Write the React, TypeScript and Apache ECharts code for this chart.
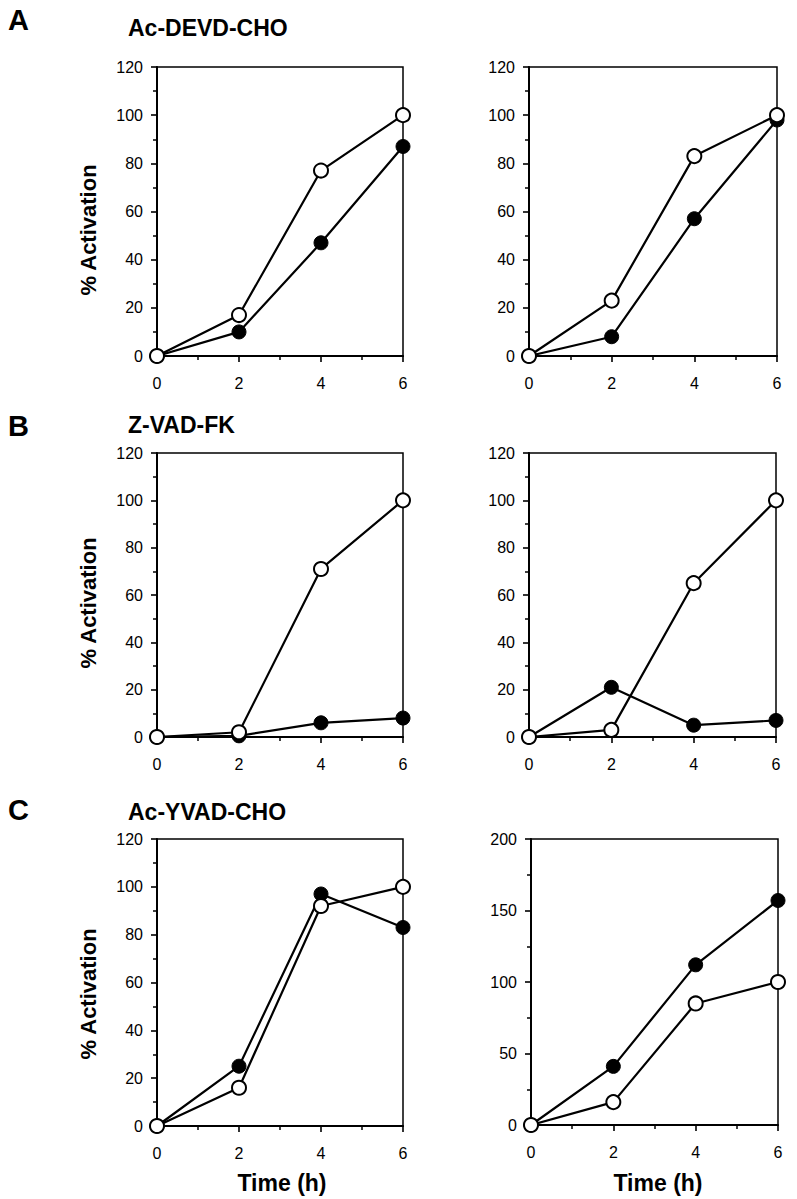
import React, { useEffect, useRef } from "react";
import * as echarts from "echarts";

const hours = [0, 2, 4, 6];
const xTicks = ["0", "2", "4", "6"];

// Panel A (Ac-DEVD-CHO)
const aLeftOpen = [0, 17, 77, 100];
const aLeftFilled = [0, 10, 47, 87];
const aRightOpen = [0, 23, 83, 100];
const aRightFilled = [0, 8, 57, 98];
// Panel B (Z-VAD-FK)
const bLeftOpen = [0, 2, 71, 100];
const bLeftFilled = [0, 0.5, 6, 8];
const bRightOpen = [0, 3, 65, 100];
const bRightFilled = [0, 21, 5, 7];
// Panel C (Ac-YVAD-CHO)
const cLeftOpen = [0, 16, 92, 100];
const cLeftFilled = [0, 25, 97, 83];
const cRightOpen = [0, 16, 85, 100];
const cRightFilled = [0, 41, 112, 157];

const panelLetters = ["A", "B", "C"];
const panelTitles = ["Ac-DEVD-CHO", "Z-VAD-FK", "Ac-YVAD-CHO"];
const yAxisName = "% Activation";
const xAxisName = "Time (h)";
const yMaxes = [120, 120, 120, 120, 120, 200];
const yIntervals = [20, 20, 20, 20, 20, 50];

const FONT = "'Liberation Sans', Arial, Helvetica, sans-serif";

export default function App() {
  const ref = useRef<HTMLDivElement>(null);

  useEffect(() => {
    if (!ref.current) return;
    const chart = echarts.init(ref.current, null, { renderer: "svg" });

    const grids = [
      { left: 157, top: 67, width: 246, height: 289 },
      { left: 529, top: 67, width: 248, height: 289 },
      { left: 157, top: 453, width: 246, height: 284 },
      { left: 529, top: 453, width: 247, height: 284 },
      { left: 157, top: 839, width: 246, height: 287 },
      { left: 531, top: 839, width: 247, height: 286 },
    ];
    const openSets = [aLeftOpen, aRightOpen, bLeftOpen, bRightOpen, cLeftOpen, cRightOpen];
    const filledSets = [aLeftFilled, aRightFilled, bLeftFilled, bRightFilled, cLeftFilled, cRightFilled];

    const axisCommon = {
      axisLine: { show: true, onZero: false, lineStyle: { color: "#000", width: 2 } },
      axisTick: { show: true, inside: false, length: 6, lineStyle: { color: "#000", width: 1.6 } },
      minorTick: { show: true, splitNumber: 2, length: 4, lineStyle: { color: "#000", width: 1.5 } },
      splitLine: { show: false },
      minorSplitLine: { show: false },
    };

    const xAxis = grids.map((_, i) => ({
      type: "value",
      gridIndex: i,
      min: 0,
      max: 6,
      interval: 2,
      ...axisCommon,
      axisLabel: {
        color: "#000",
        fontFamily: FONT,
        fontSize: 16,
        margin: 19,
        formatter: (v: number) => xTicks[hours.indexOf(v)] ?? String(v),
      },
    }));

    const yAxis = grids.map((_, i) => ({
      type: "value",
      gridIndex: i,
      min: 0,
      max: yMaxes[i],
      interval: yIntervals[i],
      ...axisCommon,
      axisLabel: { color: "#000", fontFamily: FONT, fontSize: 16, margin: 14 },
    }));

    const series: any[] = [];
    grids.forEach((_, i) => {
      series.push({
        type: "line",
        xAxisIndex: i,
        yAxisIndex: i,
        data: hours.map((h, k) => [h, filledSets[i][k]]),
        symbol: "circle",
        symbolSize: 14,
        lineStyle: { color: "#000", width: 2.2 },
        itemStyle: { color: "#000", borderColor: "#000", borderWidth: 1 },
        z: 3,
      });
      series.push({
        type: "line",
        xAxisIndex: i,
        yAxisIndex: i,
        data: hours.map((h, k) => [h, openSets[i][k]]),
        symbol: "circle",
        symbolSize: 14,
        lineStyle: { color: "#000", width: 2.2 },
        itemStyle: { color: "#fff", borderColor: "#000", borderWidth: 2 },
        z: 4,
      });
    });

    const letterY = [20, 426, 810];
    const titleY = [28, 425, 812];
    const yNameY = [230, 603, 994];

    const graphic: any[] = [];
    panelLetters.forEach((L, r) => {
      graphic.push({
        type: "text",
        x: 8,
        y: letterY[r],
        style: {
          text: L,
          fontFamily: FONT,
          fontWeight: "bold",
          fontSize: 29,
          fill: "#000",
          align: "left",
          verticalAlign: "middle",
        },
      });
      graphic.push({
        type: "text",
        x: 128,
        y: titleY[r],
        style: {
          text: panelTitles[r],
          fontFamily: FONT,
          fontWeight: "bold",
          fontSize: 23,
          fill: "#000",
          align: "left",
          verticalAlign: "middle",
        },
      });
      graphic.push({
        type: "text",
        x: 88,
        y: yNameY[r],
        rotation: Math.PI / 2,
        style: {
          text: yAxisName,
          fontFamily: FONT,
          fontWeight: "bold",
          fontSize: 22,
          fill: "#000",
          align: "center",
          verticalAlign: "middle",
        },
      });
    });
    [282, 658].forEach((x) => {
      graphic.push({
        type: "text",
        x,
        y: 1183,
        style: {
          text: xAxisName,
          fontFamily: FONT,
          fontWeight: "bold",
          fontSize: 23,
          fill: "#000",
          align: "center",
          verticalAlign: "middle",
        },
      });
    });

    chart.setOption({
      animation: false,
      backgroundColor: "#fff",
      grid: grids.map((g) => ({
        ...g,
        show: true,
        borderColor: "#000",
        borderWidth: 1.5,
        backgroundColor: "transparent",
      })),
      xAxis,
      yAxis,
      series,
      graphic,
    });

    return () => chart.dispose();
  }, []);

  return (
    <div
      ref={ref}
      style={{ position: "absolute", left: 0, top: 0, width: 797, height: 1199 }}
    />
  );
}
